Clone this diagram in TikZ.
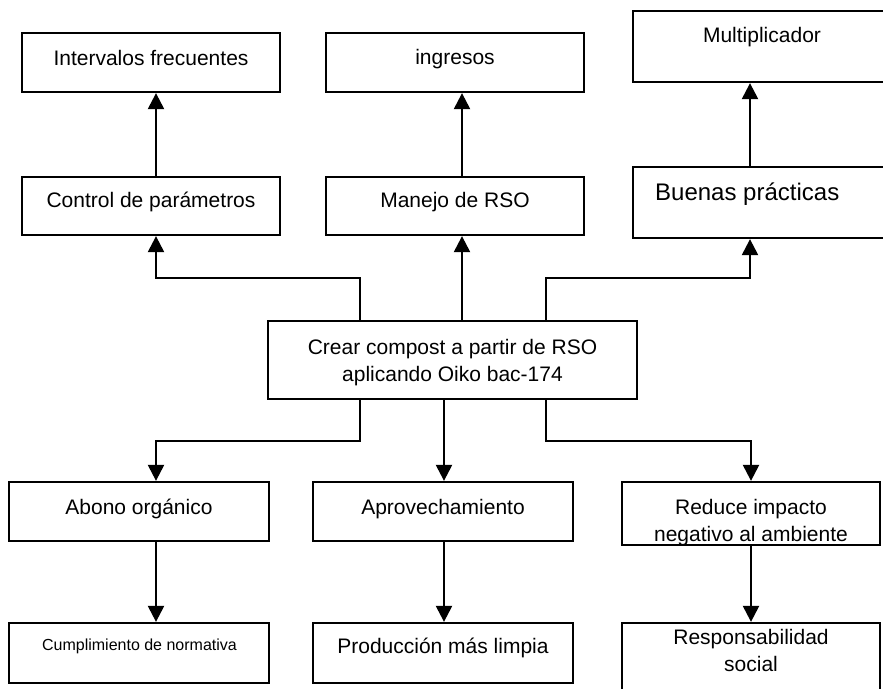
\documentclass[tikz,border=0pt]{standalone}
\usepackage{fontspec}
\setmainfont{Liberation Sans}
\usetikzlibrary{arrows.meta}
\begin{document}
\begin{tikzpicture}[x=1pt,y=-1pt,
  box/.style={draw, line width=2.3pt, inner sep=0pt, minimum width=258pt, minimum height=59pt},
  txt/.style={inner sep=0pt, anchor=base, font=\fontsize{21}{27}\selectfont},
  arr/.style={line width=2.3pt, -{Triangle[length=16pt,width=16pt]}}]
\useasboundingbox (0,0) rectangle (883,688);
\fill[white] (0,0) rectangle (883,688);
\clip (0,0) rectangle (883,688);
% boxes
\node[box] (interv) at (151,62.5) {};
\node[box] (ingr) at (455,62.5) {};
\node[box, minimum height=71pt] (multip) at (762,46.5) {};
\node[box, minimum height=58pt] (ctrl) at (151,206) {};
\node[box, minimum height=58pt] (manejo) at (455,206) {};
\node[box, minimum height=71pt] (buenas) at (762,202.5) {};
\node[box, minimum width=369pt, minimum height=78pt] (crear) at (452.5,360) {};
\node[box, minimum width=260pt] (abono) at (139,511.5) {};
\node[box, minimum width=260pt] (aprov) at (443,511.5) {};
\node[box, minimum height=63pt] (reduce) at (751,513.5) {};
\node[box, minimum width=260pt, minimum height=60pt] (cumpl) at (139,653) {};
\node[box, minimum width=260pt, minimum height=60pt] (prod) at (443,653) {};
\node[box, minimum height=77pt] (resp) at (751,661.5) {};
% texts
\node[txt] (interv-t) at (151,65) {Intervalos frecuentes};
\node[txt] (ingr-t) at (455,64) {ingresos};
\node[txt] (multip-t) at (762,42) {Multiplicador};
\node[txt] (ctrl-t) at (151,207) {Control de parámetros};
\node[txt] (manejo-t) at (455,207) {Manejo de RSO};
\node[txt, anchor=base west, font=\fontsize{24}{28}\selectfont] (buenas-t) at (655,200) {Buenas prácticas};
\node[txt] (crear-t) at (452.5,354) {\begin{tabular}[t]{@{}c@{}}Crear compost a partir de RSO\\aplicando Oiko bac-174\end{tabular}};
\node[txt] (abono-t) at (139,514) {Abono orgánico};
\node[txt] (aprov-t) at (443,514) {Aprovechamiento};
\node[txt] (reduce-t) at (751,514) {\begin{tabular}[t]{@{}c@{}}Reduce impacto\\negativo al ambiente\end{tabular}};
\node[txt, font=\fontsize{16}{20}\selectfont] (cumpl-t) at (139.5,650) {Cumplimiento de normativa};
\node[txt] (prod-t) at (443,653) {Producción más limpia};
\node[txt] (resp-t) at (751,644) {\begin{tabular}[t]{@{}c@{}}Responsabilidad\\social\end{tabular}};
% coordinates
\coordinate (jtl) at (360,278);
\coordinate (jtr) at (546,278);
\coordinate (jbl) at (360,441);
\coordinate (jbr) at (546,441);
\coordinate (c1) at (156,0);
\coordinate (c2) at (462,0);
\coordinate (c3) at (750,0);
\coordinate (d2) at (444,0);
\coordinate (d3) at (751,0);
% connectors
\draw[arr] (crear.north -| jtl) -- (jtl) -| (ctrl.south -| c1);
\draw[arr] (crear.north -| c2) -- (manejo.south -| c2);
\draw[arr] (crear.north -| jtr) -- (jtr) -| (buenas.south -| c3);
\draw[arr] (ctrl.north -| c1) -- (interv.south -| c1);
\draw[arr] (manejo.north -| c2) -- (ingr.south -| c2);
\draw[arr] (buenas.north -| c3) -- (multip.south -| c3);
\draw[arr] (crear.south -| jbl) -- (jbl) -| (abono.north -| c1);
\draw[arr] (crear.south -| d2) -- (aprov.north -| d2);
\draw[arr] (crear.south -| jbr) -- (jbr) -| (reduce.north -| d3);
\draw[arr] (abono.south -| c1) -- (cumpl.north -| c1);
\draw[arr] (aprov.south -| d2) -- (prod.north -| d2);
\draw[arr] (reduce.south -| d3) -- (resp.north -| d3);
\end{tikzpicture}
\end{document}
